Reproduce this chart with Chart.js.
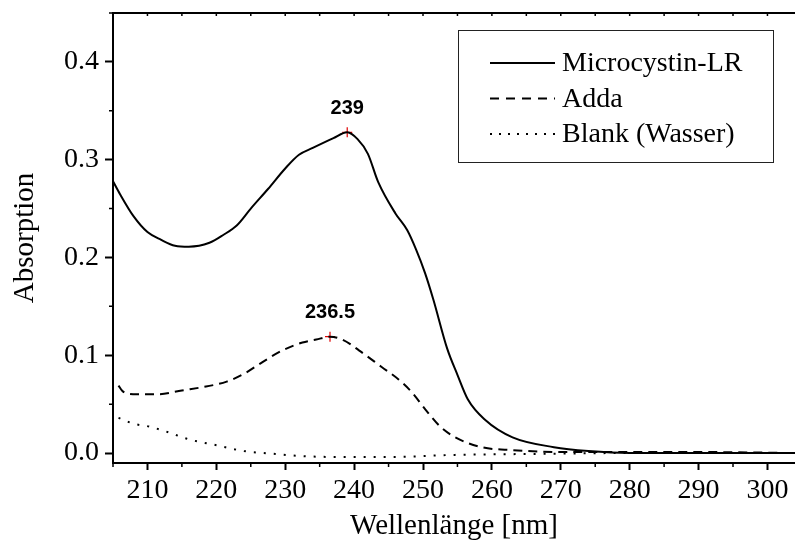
<!DOCTYPE html>
<html>
<head>
<meta charset="utf-8">
<script src="https://cdn.jsdelivr.net/npm/chart.js@4.4.1/dist/chart.umd.min.js"></script>
<style>
  html, body { margin: 0; padding: 0; background: #fff; }
  #wrap { width: 795px; height: 544px; }
</style>
</head>
<body>
<div id="wrap"><canvas id="spektrum" width="795" height="544"></canvas></div>
<script>
// Microcystin-LR (durchgezogen)
const mcWl  = [205, 206, 208, 210, 212, 214, 216, 219, 221, 223, 225, 227.5, 230, 232, 234, 237, 239, 240.5, 242, 243.5, 246, 247.7, 249, 250.3, 251.5, 253.5, 255, 256.5, 259, 263, 269, 274, 280, 290, 304];
const mcAbs = [0.278, 0.265, 0.242, 0.226, 0.218, 0.212, 0.211, 0.215, 0.223, 0.233, 0.250, 0.270, 0.291, 0.305, 0.312, 0.322, 0.328, 0.321, 0.306, 0.277, 0.245, 0.228, 0.208, 0.184, 0.157, 0.107, 0.080, 0.055, 0.034, 0.016, 0.006, 0.002, 0.000, 0.000, 0.000];

// Adda (gestrichelt)
const addaWl  = [205.8, 206.3, 207, 208.5, 211.5, 215, 218.5, 221.5, 224, 226.7, 229.6, 232.5, 234.5, 236.5, 238.3, 240.7, 244, 246.5, 248.4, 250.3, 252.5, 254.7, 258.5, 263, 270, 280, 290, 304];
const addaAbs = [0.069, 0.064, 0.061, 0.060, 0.060, 0.064, 0.068, 0.073, 0.081, 0.093, 0.105, 0.113, 0.116, 0.119, 0.116, 0.105, 0.088, 0.075, 0.062, 0.045, 0.027, 0.016, 0.006, 0.003, 0.001, 0.001, 0.001, 0.000];

// Blank (Wasser), gepunktet
const blankWl  = [205.8, 208, 210.3, 212.7, 216, 220, 224, 228.6, 232, 237, 246, 254, 265, 280, 304];
const blankAbs = [0.036, 0.030, 0.027, 0.022, 0.014, 0.008, 0.002, -0.001, -0.003, -0.004, -0.004, -0.002, -0.001, 0.000, 0.000];

// Maxima
const peakWl = [239, 236.5];
const peakAbs = [0.328, 0.119];
const peakText = ['239', '236.5'];

const serif = 'Liberation Serif';
const toXY = (xs, ys) => xs.map((v, i) => ({ x: v, y: ys[i] }));

// Rahmen oben, kleine Ticks, Legende und Beschriftung der Maxima
const extras = {
    id: 'extras',
    afterDraw(chart) {
        const { ctx, chartArea: a, scales: { x, y } } = chart;
        ctx.save();
        ctx.strokeStyle = '#000';
        ctx.lineWidth = 2;
        ctx.beginPath();
        ctx.moveTo(a.left, a.top);
        ctx.lineTo(a.right, a.top);
        ctx.stroke();

        ctx.lineWidth = 1.5;
        ctx.beginPath();
        for (let v = 205; v <= 304; v += 5) {
            const px = x.getPixelForValue(v);
            ctx.moveTo(px, a.top);
            ctx.lineTo(px, a.top + 3);
            if (v % 10 !== 0) {
                ctx.moveTo(px, a.bottom);
                ctx.lineTo(px, a.bottom + 4);
            }
        }
        for (let v = 0.05; v < 0.45; v += 0.1) {
            const py = y.getPixelForValue(v);
            ctx.moveTo(a.left, py);
            ctx.lineTo(a.left - 4, py);
        }
        ctx.stroke();

        // Legende
        const bx = a.right - 337, by = a.top + 17, bw = 315, bh = 132;
        ctx.lineWidth = 1;
        ctx.strokeStyle = '#222';
        ctx.strokeRect(bx + 0.5, by + 0.5, bw, bh);
        ctx.font = '28px "' + serif + '"';
        ctx.textBaseline = 'middle';
        ctx.fillStyle = '#000';
        chart.data.datasets.slice(0, 3).forEach((ds, i) => {
            const ly = by + 33 + i * 35.5;
            ctx.strokeStyle = '#000';
            ctx.lineWidth = ds.borderWidth;
            ctx.setLineDash(ds.legendDash);
            ctx.beginPath();
            ctx.moveTo(bx + 32, ly);
            ctx.lineTo(bx + 97, ly);
            ctx.stroke();
            ctx.setLineDash([]);
            ctx.fillText(ds.label, bx + 104, ly + 1);
        });

        // Maxima
        ctx.font = 'bold 20px "Liberation Sans"';
        ctx.textAlign = 'center';
        peakWl.forEach((w, i) => {
            ctx.fillText(peakText[i], x.getPixelForValue(w), y.getPixelForValue(peakAbs[i]) - 24);
        });
        ctx.restore();
    }
};

new Chart(document.getElementById('spektrum'), {
    type: 'line',
    data: {
        datasets: [
            {
                label: 'Microcystin-LR',
                data: toXY(mcWl, mcAbs),
                borderColor: '#000',
                borderWidth: 2,
                legendDash: [],
                pointRadius: 0,
                cubicInterpolationMode: 'monotone'
            },
            {
                label: 'Adda',
                data: toXY(addaWl, addaAbs),
                borderColor: '#000',
                borderWidth: 2,
                borderDash: [9, 6],
                legendDash: [9, 7],
                pointRadius: 0,
                cubicInterpolationMode: 'monotone'
            },
            {
                label: 'Blank (Wasser)',
                data: toXY(blankWl, blankAbs),
                borderColor: '#000',
                borderWidth: 2,
                borderDash: [2, 8],
                legendDash: [2, 7],
                pointRadius: 0,
                cubicInterpolationMode: 'monotone'
            },
            {
                label: 'Maxima',
                data: toXY(peakWl, peakAbs),
                showLine: false,
                pointStyle: 'cross',
                pointRadius: 5,
                borderColor: '#e00000',
                pointBorderWidth: 1.2
            }
        ]
    },
    options: {
        responsive: false,
        animation: false,
        layout: { autoPadding: false, padding: { top: 13, right: 0, left: 0, bottom: 0 } },
        plugins: {
            legend: { display: false },
            tooltip: { enabled: false }
        },
        scales: {
            x: {
                type: 'linear',
                min: 205,
                max: 304,
                border: { display: true, color: '#000', width: 2 },
                grid: { drawOnChartArea: false, drawTicks: true, tickLength: 7, tickColor: '#000', tickWidth: 2 },
                ticks: {
                    stepSize: 10,
                    includeBounds: false,
                    color: '#000',
                    padding: 4,
                    maxRotation: 0,
                    font: { family: serif, size: 28 },
                    callback: v => v.toFixed(0)
                },
                title: {
                    display: true,
                    text: 'Wellenlänge [nm]',
                    color: '#000',
                    padding: { top: 0, bottom: 0 },
                    font: { family: serif, size: 29 }
                },
                afterFit: s => { s.height = 81; s.paddingLeft = 0; s.paddingRight = 0; }
            },
            y: {
                min: -0.0102,
                max: 0.45,
                border: { display: true, color: '#000', width: 2 },
                grid: { drawOnChartArea: false, drawTicks: true, tickLength: 8, tickColor: '#000', tickWidth: 2 },
                ticks: {
                    stepSize: 0.1,
                    includeBounds: false,
                    color: '#000',
                    padding: 6,
                    font: { family: serif, size: 28 },
                    callback: v => v.toFixed(1)
                },
                title: {
                    display: true,
                    text: 'Absorption',
                    color: '#000',
                    padding: { top: 8, bottom: 0 },
                    font: { family: serif, size: 29 }
                },
                afterFit: s => { s.width = 113; s.paddingTop = 0; s.paddingBottom = 0; }
            }
        }
    },
    plugins: [extras]
});
</script>
</body>
</html>
